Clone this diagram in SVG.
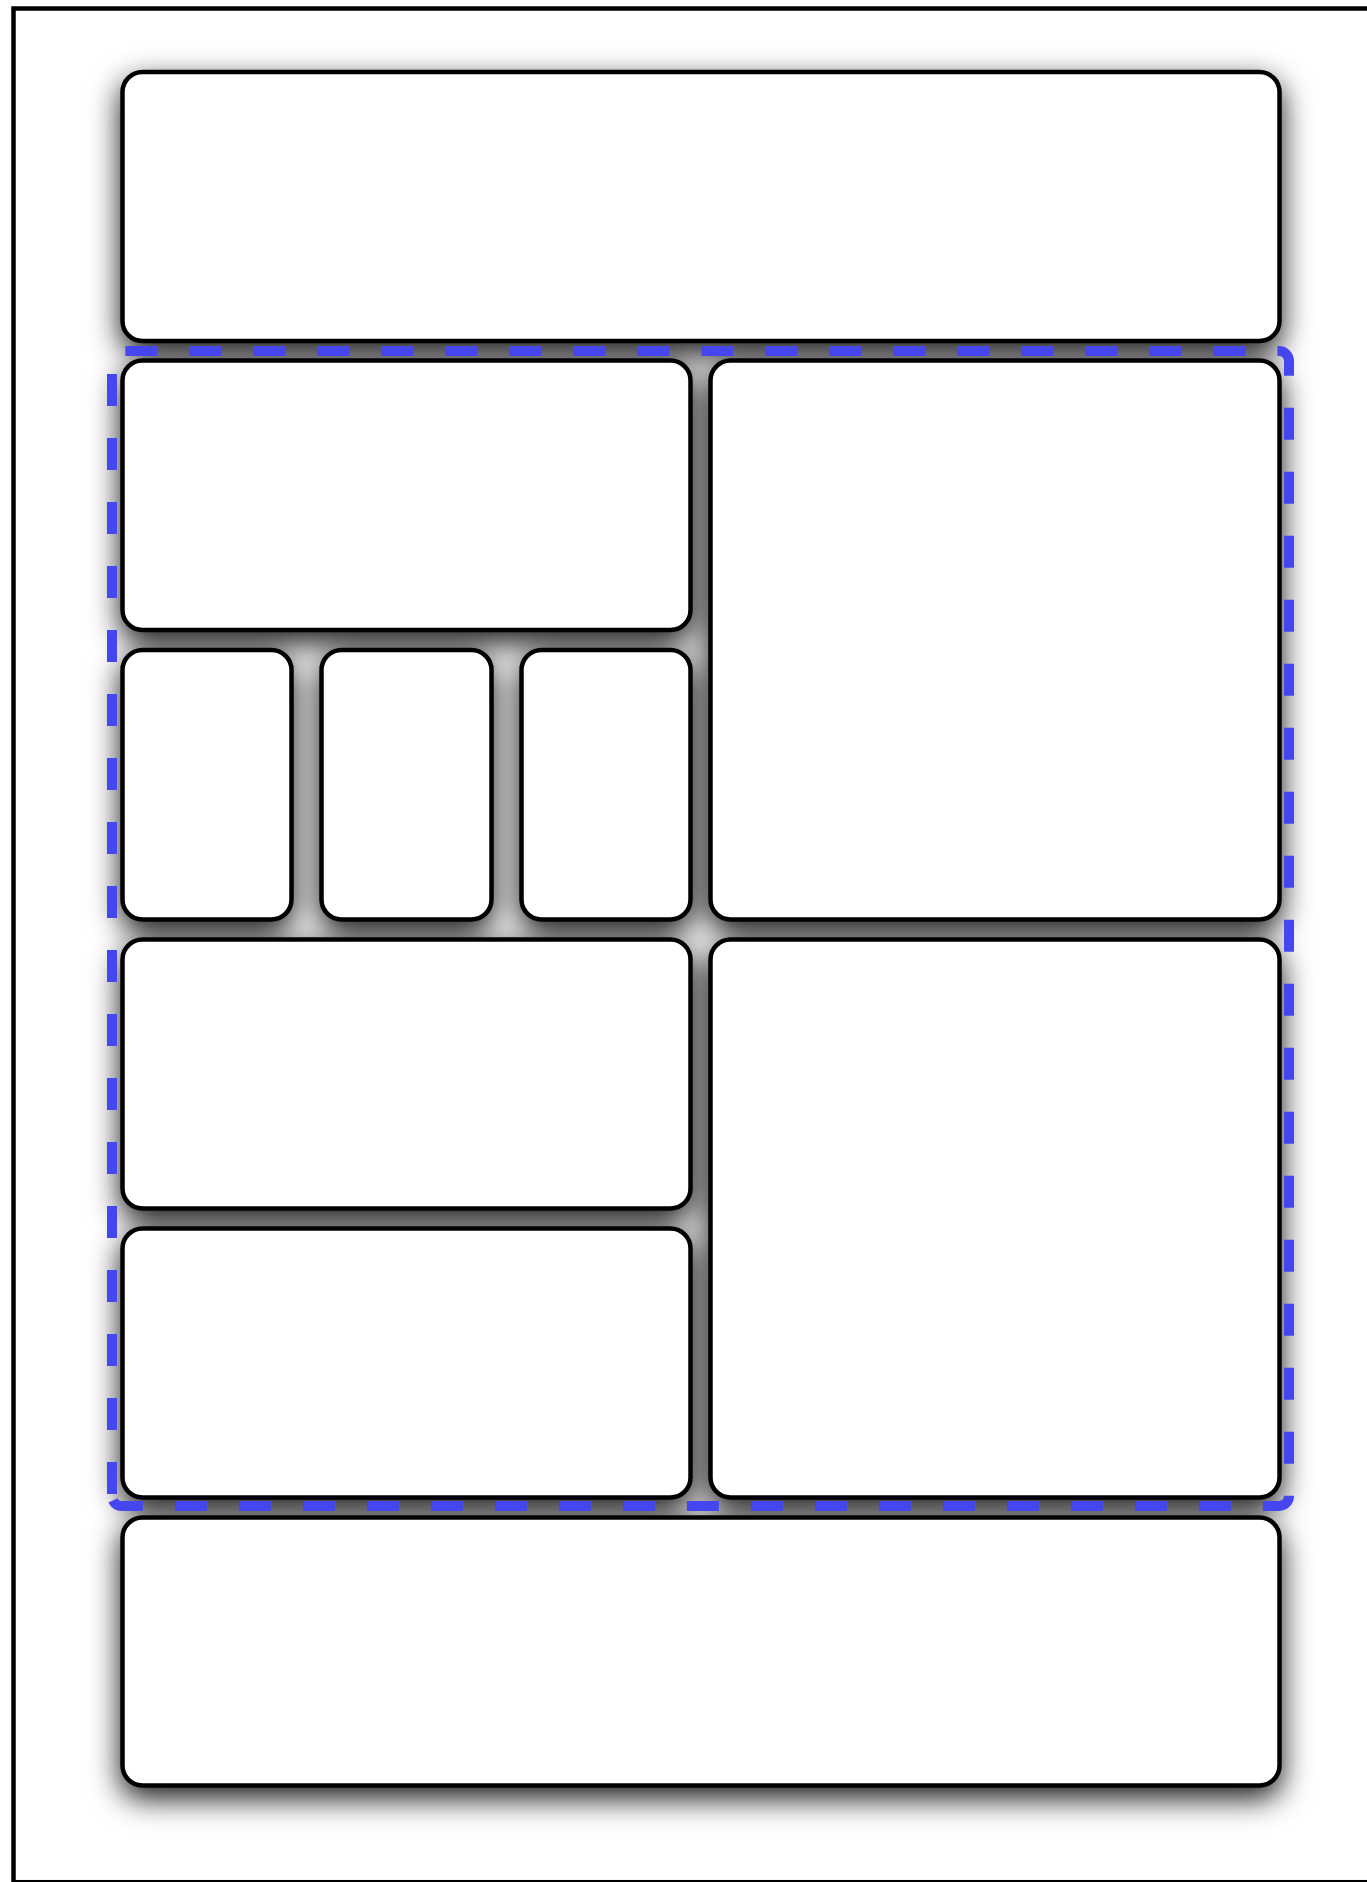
<svg xmlns="http://www.w3.org/2000/svg" width="1367" height="1882" viewBox="0 0 1367 1882">
  <defs>
    <filter id="shadow" x="-20%" y="-20%" width="140%" height="140%">
      <feDropShadow dx="0" dy="11" stdDeviation="15" flood-color="#000000" flood-opacity="0.9"/>
    </filter>
    <style>
      .frame { fill: #ffffff; stroke: #000000; stroke-width: 4.5; }
      .node { fill: #ffffff; stroke: #000000; stroke-width: 4.5; }
      .group-border { fill: none; stroke: #4646f0; stroke-width: 10; stroke-dasharray: 32 32; stroke-dashoffset: -2; }
    </style>
  </defs>
  <rect x="0" y="0" width="1367" height="1882" fill="#ffffff"/>
  <rect class="frame" x="13.5" y="8.5" width="1362" height="1873.7"/>
  <g id="nodes" filter="url(#shadow)">
    <g id="node-top"><rect class="node" x="122.5" y="72" width="1157" height="269" rx="20" ry="20"/></g>
    <g id="node-r1-left"><rect class="node" x="122.5" y="360.5" width="568" height="269.5" rx="20" ry="20"/></g>
    <g id="node-right-upper"><rect class="node" x="710.5" y="360.5" width="569" height="559" rx="20" ry="20"/></g>
    <g id="node-small-1"><rect class="node" x="122.5" y="650" width="169" height="269.5" rx="20" ry="20"/></g>
    <g id="node-small-2"><rect class="node" x="321.5" y="650" width="170" height="269.5" rx="20" ry="20"/></g>
    <g id="node-small-3"><rect class="node" x="521.5" y="650" width="169" height="269.5" rx="20" ry="20"/></g>
    <g id="node-r3-left"><rect class="node" x="122.5" y="939.5" width="568" height="269" rx="20" ry="20"/></g>
    <g id="node-right-lower"><rect class="node" x="710.5" y="939.5" width="569" height="558" rx="20" ry="20"/></g>
    <g id="node-r4-left"><rect class="node" x="122.5" y="1228.5" width="568" height="269" rx="20" ry="20"/></g>
    <g id="node-bottom"><rect class="node" x="122.5" y="1517.5" width="1157" height="268" rx="20" ry="20"/></g>
  </g>
  <g id="connectors">
    <path class="group-border" d="M 112 1496 V 361 A 10 10 0 0 1 122 351 H 1279 A 10 10 0 0 1 1289 361 V 1496 A 10 10 0 0 1 1279 1506 H 122 A 10 10 0 0 1 112 1496 Z"/>
  </g>
</svg>
